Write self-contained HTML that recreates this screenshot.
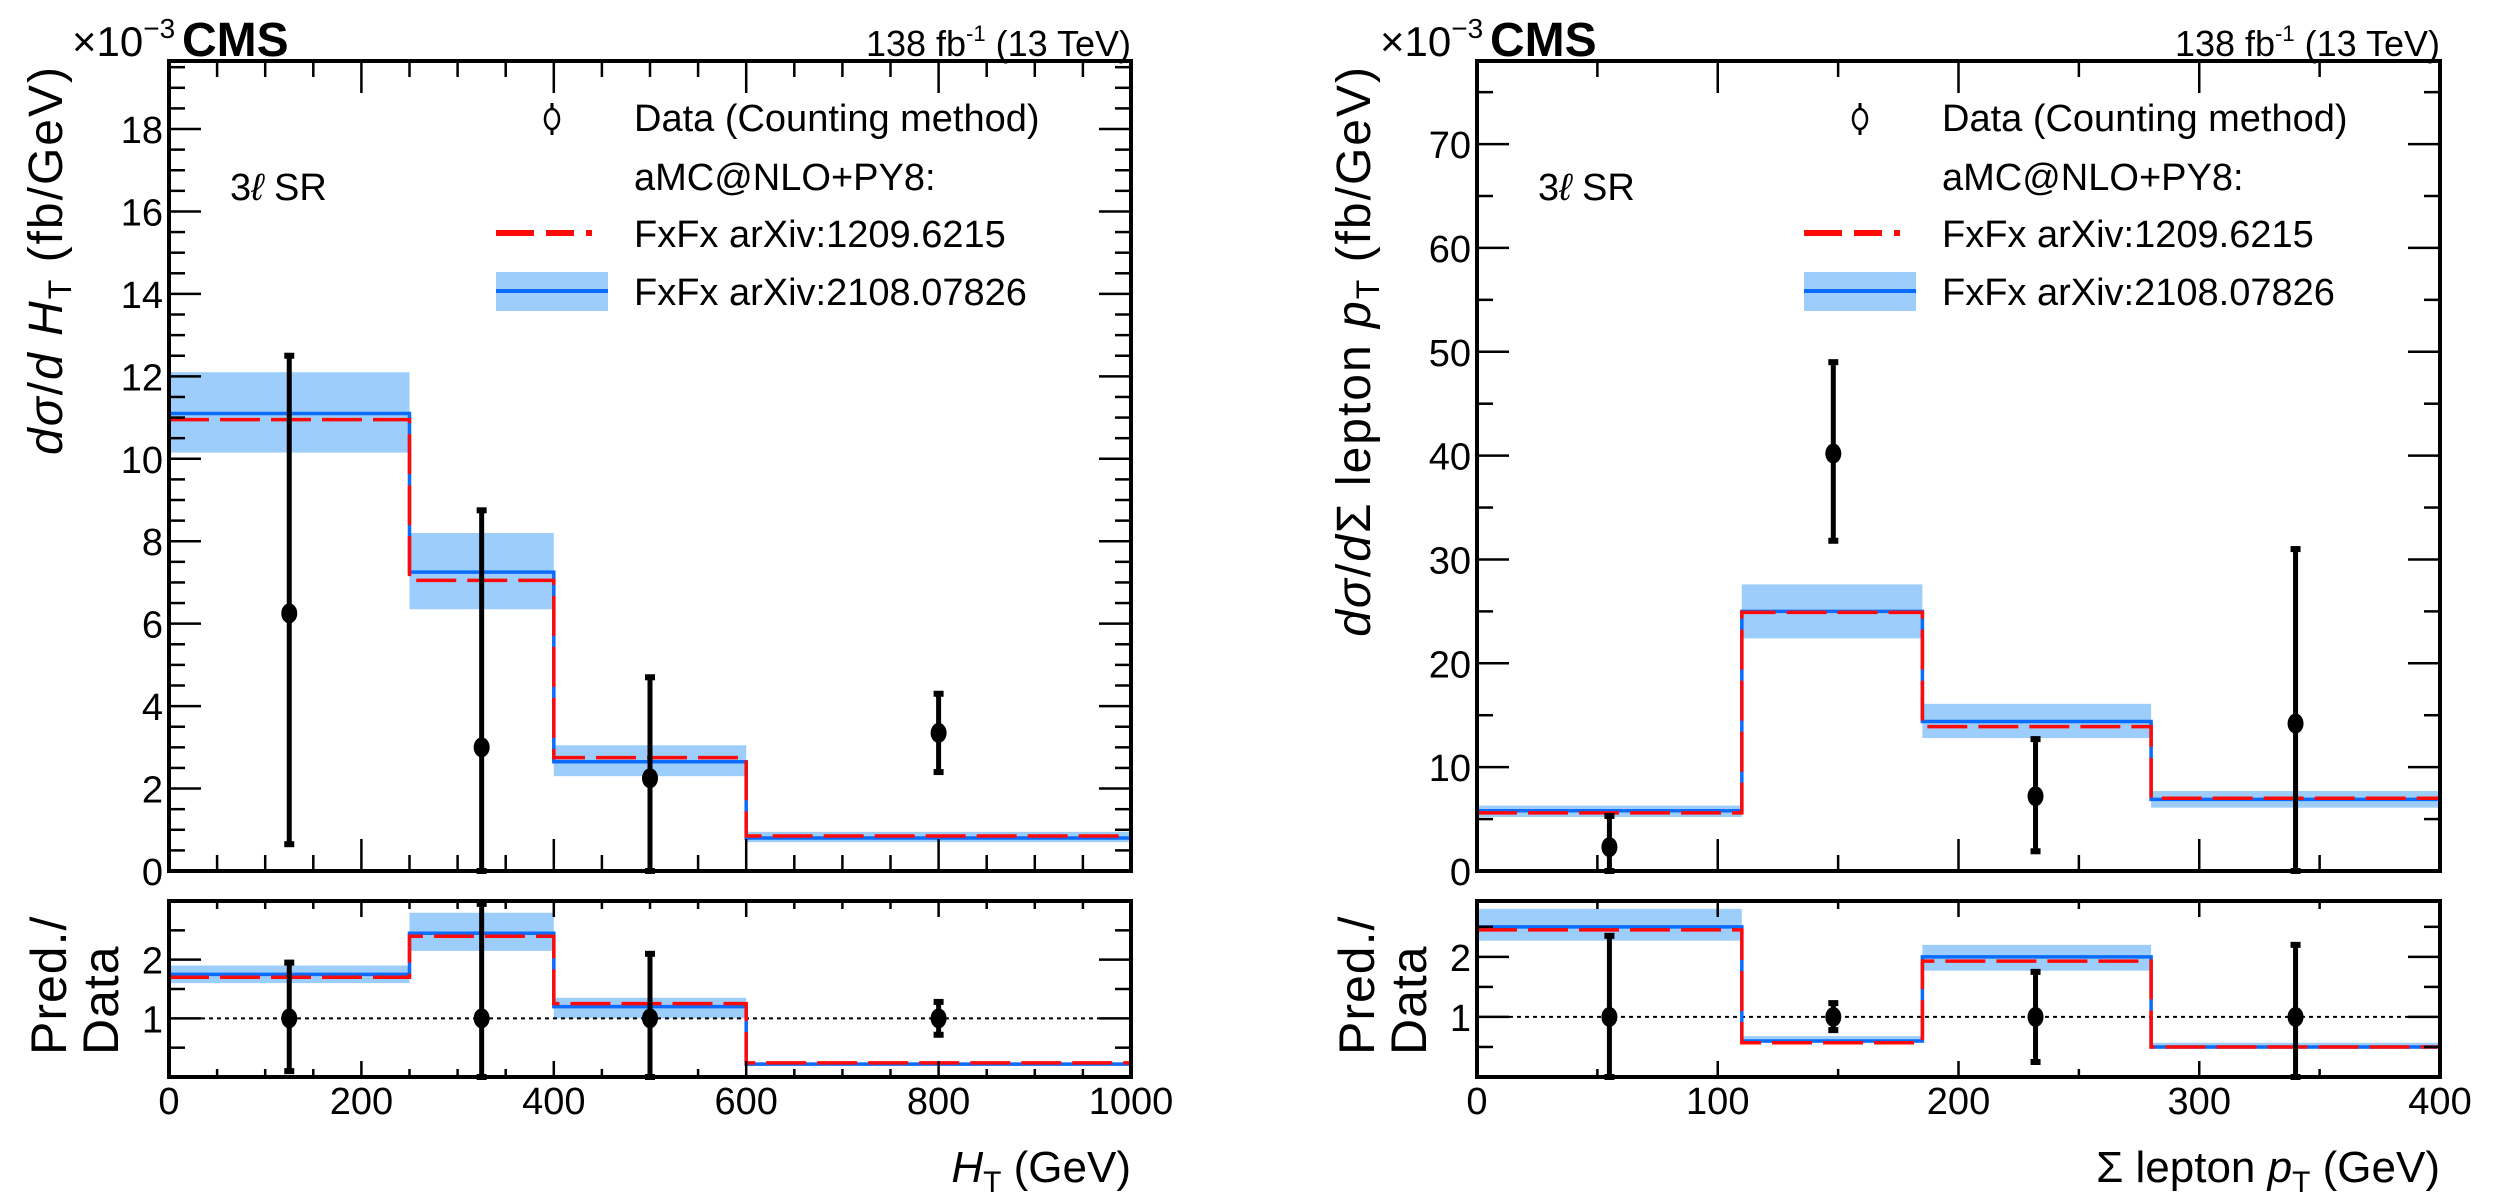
<!DOCTYPE html>
<html><head><meta charset="utf-8"><style>
html,body{margin:0;padding:0;background:#fff}
svg{display:block;font-family:"Liberation Sans",sans-serif}
</style></head><body>
<svg id="fig" width="2494" height="1197" viewBox="0 0 2494 1197" xmlns="http://www.w3.org/2000/svg"></svg>
<script>
// ---- Left panel (H_T) data ----
const htEdges = [0, 250, 400, 600, 1000];
const htBlue = [11.1, 7.25, 2.65, 0.8];
const htRed = [10.95, 7.05, 2.75, 0.85];
const htBandLo = [10.15, 6.35, 2.3, 0.7];
const htBandHi = [12.1, 8.2, 3.05, 0.95];
const htDataX = [125, 325, 500, 800];
const htDataY = [6.25, 3.0, 2.25, 3.35];
const htDataLo = [0.65, 0, 0, 2.4];
const htDataHi = [12.5, 8.75, 4.7, 4.3];
const htRBlue = [1.75, 2.45, 1.2, 0.22];
const htRRed = [1.7, 2.4, 1.25, 0.24];
const htRBandLo = [1.6, 2.15, 1.0, 0.2];
const htRBandHi = [1.9, 2.8, 1.35, 0.25];
const htRLo = [0.1, 0, 0, 0.72];
const htRHi = [1.95, 2.95, 2.1, 1.28];
const htXTicks = [0, 200, 400, 600, 800, 1000];
const htYTicks = [0, 2, 4, 6, 8, 10, 12, 14, 16, 18];
// ---- Right panel (sum lepton pT) data ----
const ptEdges = [0, 110, 185, 280, 400];
const ptBlue = [5.8, 25.0, 14.4, 6.9];
const ptRed = [5.6, 24.9, 13.9, 7.0];
const ptBandLo = [5.2, 22.4, 12.8, 6.1];
const ptBandHi = [6.3, 27.6, 16.1, 7.7];
const ptDataX = [55, 148, 232, 340];
const ptDataY = [2.3, 40.2, 7.2, 14.2];
const ptDataLo = [0, 31.8, 1.9, 0];
const ptDataHi = [5.3, 49.0, 12.7, 31.0];
const ptRBlue = [2.5, 0.6, 2.0, 0.5];
const ptRRed = [2.45, 0.57, 1.93, 0.5];
const ptRBandLo = [2.27, 0.57, 1.77, 0.47];
const ptRBandHi = [2.8, 0.68, 2.2, 0.57];
const ptRLo = [0, 0.78, 0.25, 0];
const ptRHi = [2.35, 1.23, 1.75, 2.2];
const ptXTicks = [0, 100, 200, 300, 400];
const ptYTicks = [0, 10, 20, 30, 40, 50, 60, 70];
const ratioTicks = [1, 2];

const NS = "http://www.w3.org/2000/svg";
const svg = document.getElementById('fig');
function mk(tag, attrs, parent) {
  const e = document.createElementNS(NS, tag);
  for (const k in attrs) e.setAttribute(k, attrs[k]);
  (parent || svg).appendChild(e);
  return e;
}
const BLUE = "#0a6cff", RED = "#ff0a0a", BAND = "#9dcdfb";

function drawPanel(o) {
  const g = mk('g', {});
  
  
  const L = o.x0, R = o.x1, T = 61, MB = 871, RT = 901, RB = 1077;
  const sx = v => L + (v - o.xmin) / (o.xmax - o.xmin) * (R - L);
  const sy = v => MB - v / o.ymax * (MB - T);
  const sr = v => RB - v / o.rmax * (RB - RT);

  function hist(edges, vals, ys, color, dash, name) {
    let d = '';
    for (let i = 0; i < vals.length; i++) {
      const x0 = sx(edges[i]), x1 = sx(edges[i + 1]), y = ys(vals[i]);
      d += (i === 0 ? 'M' : 'L') + x0 + ' ' + y + ' L' + x1 + ' ' + y + ' ';
    }
    const p = mk('path', {d: d, fill: 'none', stroke: color, 'stroke-width': 3.5}, g);
    if (dash) p.setAttribute('stroke-dasharray', '40 11');
    
    
  }
  function bands(edges, lo, hi, ys, name) {
    for (let i = 0; i < lo.length; i++) {
      const r = mk('rect', {x: sx(edges[i]), y: ys(hi[i]), width: sx(edges[i + 1]) - sx(edges[i]), height: ys(lo[i]) - ys(hi[i]), fill: BAND}, g);
      
      
    }
  }
  function points(xs, ysv, lo, hi, ys, name) {
    for (let i = 0; i < xs.length; i++) {
      const x = sx(xs[i]);
      const pg = mk('g', {}, g);
      
      
      mk('line', {x1: x, x2: x, y1: ys(lo[i]), y2: ys(hi[i]), stroke: '#000', 'stroke-width': 5}, pg);
      mk('rect', {x: x - 5, y: ys(lo[i]) - 3, width: 10, height: 6, fill: '#000'}, pg);
      mk('rect', {x: x - 5, y: ys(hi[i]) - 3, width: 10, height: 6, fill: '#000'}, pg);
      mk('ellipse', {cx: x, cy: ys(ysv[i]), rx: 8, ry: 10, fill: '#000'}, pg);
    }
  }
  bands(o.edges, o.bandLo, o.bandHi, sy, 'band-main');
  hist(o.edges, o.blue, sy, BLUE, false, 'blue-hist-main');
  hist(o.edges, o.red, sy, RED, true, 'red-hist-main');
  points(o.dx, o.dy, o.dlo, o.dhi, sy, 'data-point');
  bands(o.edges, o.rBandLo, o.rBandHi, sr, 'band-ratio');
  const ref = mk('line', {x1: L, x2: R, y1: sr(1), y2: sr(1), stroke: '#000', 'stroke-width': 2, 'stroke-dasharray': '4 4'}, g);
  
  
  hist(o.edges, o.rBlue, sr, BLUE, false, 'blue-hist-ratio');
  hist(o.edges, o.rRed, sr, RED, true, 'red-hist-ratio');
  points(o.dx, o.dx.map(() => 1), o.rlo, o.rhi, sr, 'ratio-point');

  mk('rect', {x: L, y: T, width: R - L, height: MB - T, fill: 'none', stroke: '#000', 'stroke-width': 4}, g);
  mk('rect', {x: L, y: RT, width: R - L, height: RB - RT, fill: 'none', stroke: '#000', 'stroke-width': 4}, g);
  for (let v = o.xmin; v <= o.xmax + 1e-6; v += o.xminor) {
    const x = sx(v), major = Math.abs(v / o.xmajor - Math.round(v / o.xmajor)) < 1e-6;
    const len = major ? 32 : 16;
    mk('line', {x1: x, x2: x, y1: MB, y2: MB - len, stroke: '#000', 'stroke-width': 2.5}, g);
    mk('line', {x1: x, x2: x, y1: T, y2: T + len, stroke: '#000', 'stroke-width': 2.5}, g);
    mk('line', {x1: x, x2: x, y1: RB, y2: RB - len * 0.5, stroke: '#000', 'stroke-width': 2.5}, g);
    mk('line', {x1: x, x2: x, y1: RT, y2: RT + len * 0.5, stroke: '#000', 'stroke-width': 2.5}, g);
  }
  o.xticks.forEach(v => {
    const t = mk('text', {x: sx(v), y: 1114, 'text-anchor': 'middle', 'font-size': 38}, g);
    t.textContent = v;
    
    
  });
  for (let v = 0; v <= o.ymax + 1e-6; v += o.yminor) {
    const y = sy(v), major = Math.abs(v / o.ymajor - Math.round(v / o.ymajor)) < 1e-6;
    const len = major ? 32 : 16;
    mk('line', {x1: L, x2: L + len, y1: y, y2: y, stroke: '#000', 'stroke-width': 2.5}, g);
    mk('line', {x1: R, x2: R - len, y1: y, y2: y, stroke: '#000', 'stroke-width': 2.5}, g);
  }
  o.yticks.forEach(v => {
    const t = mk('text', {x: L - 6, y: sy(v) + 14, 'text-anchor': 'end', 'font-size': 38}, g);
    t.textContent = v;
    
    
  });
  for (let v = 0; v <= o.rmax + 1e-6; v += 0.5) {
    const y = sr(v), major = Math.abs(v - Math.round(v)) < 1e-6;
    const len = major ? 32 : 16;
    mk('line', {x1: L, x2: L + len, y1: y, y2: y, stroke: '#000', 'stroke-width': 2.5}, g);
    mk('line', {x1: R, x2: R - len, y1: y, y2: y, stroke: '#000', 'stroke-width': 2.5}, g);
  }
  ratioTicks.forEach(v => {
    const t = mk('text', {x: L - 6, y: sr(v) + 14, 'text-anchor': 'end', 'font-size': 38}, g);
    t.textContent = v;
    
    
  });
}

drawPanel({name: 'ht-panel', x0: 169, x1: 1131, xmin: 0, xmax: 1000, xminor: 50, xmajor: 200, ymax: 19.65, yminor: 0.5, ymajor: 2, rmax: 3.0,
  edges: htEdges, blue: htBlue, red: htRed, bandLo: htBandLo, bandHi: htBandHi, dx: htDataX, dy: htDataY, dlo: htDataLo, dhi: htDataHi,
  rBlue: htRBlue, rRed: htRRed, rBandLo: htRBandLo, rBandHi: htRBandHi, rlo: htRLo, rhi: htRHi, xticks: htXTicks, yticks: htYTicks});
drawPanel({name: 'pt-panel', x0: 1477, x1: 2440, xmin: 0, xmax: 400, xminor: 50, xmajor: 100, ymax: 78, yminor: 5, ymajor: 10, rmax: 2.93,
  edges: ptEdges, blue: ptBlue, red: ptRed, bandLo: ptBandLo, bandHi: ptBandHi, dx: ptDataX, dy: ptDataY, dlo: ptDataLo, dhi: ptDataHi,
  rBlue: ptRBlue, rRed: ptRRed, rBandLo: ptRBandLo, rBandHi: ptRBandHi, rlo: ptRLo, rhi: ptRHi, xticks: ptXTicks, yticks: ptYTicks});
</script>
<svg width="2494" height="1197" style="position:absolute;left:0;top:0" xmlns="http://www.w3.org/2000/svg">
  <g font-family="Liberation Sans, sans-serif">
    <text x="72" y="56" font-size="42">×10<tspan dy="-18" font-size="28">−3</tspan></text>
    <text x="182" y="56" font-size="48" font-weight="bold">CMS</text>
    <text x="1131" y="56" font-size="36" text-anchor="end">138 fb<tspan dy="-15" font-size="22">-1</tspan><tspan dy="15"> (13 TeV)</tspan></text>
    <text transform="translate(62,65) rotate(-90)" font-size="48" letter-spacing="2" text-anchor="end"><tspan font-style="italic">dσ</tspan>/<tspan font-style="italic">d H</tspan><tspan font-size="32" dy="9">T</tspan><tspan dy="-9">  (fb/GeV)</tspan></text>
    <text transform="translate(66,1055) rotate(-90)" font-size="50" letter-spacing="1"><tspan x="0">Pred./</tspan><tspan x="0" dy="52">Data</tspan></text>
    <text x="1131" y="1182" font-size="44" text-anchor="end"><tspan font-style="italic">H</tspan><tspan font-size="30" dy="10">T</tspan><tspan dy="-10"> (GeV)</tspan></text>
    <text x="230" y="200" font-size="38">3<tspan font-style="italic">ℓ</tspan>  SR</text>
  </g>
  <g font-family="Liberation Sans, sans-serif" font-size="38">
    <line x1="552" y1="103" x2="552" y2="135" stroke="#000" stroke-width="3"/>
    <ellipse cx="552" cy="119" rx="7" ry="10" fill="#fff" stroke="#000" stroke-width="2.5"/>
    <text x="634" y="131">Data (Counting method)</text>
    <text x="634" y="190">aMC@NLO+PY8:</text>
    <line x1="496" y1="233" x2="608" y2="233" stroke="#ff0a0a" stroke-width="6" stroke-dasharray="38 12 28 12 6 20"/>
    <text x="634" y="247">FxFx arXiv:1209.6215</text>
    <rect x="496" y="272" width="112" height="39" fill="#9dcdfb"/>
    <line x1="496" y1="291" x2="608" y2="291" stroke="#0a6cff" stroke-width="4"/>
    <text x="634" y="305">FxFx arXiv:2108.07826</text>
  </g>
  <g font-family="Liberation Sans, sans-serif">
    <text x="1380" y="56" font-size="42">×10<tspan dy="-18" font-size="28">−3</tspan></text>
    <text x="1490" y="56" font-size="48" font-weight="bold">CMS</text>
    <text x="2440" y="56" font-size="36" text-anchor="end">138 fb<tspan dy="-15" font-size="22">-1</tspan><tspan dy="15"> (13 TeV)</tspan></text>
    <text transform="translate(1370,65) rotate(-90)" font-size="48" letter-spacing="2" text-anchor="end"><tspan font-style="italic">dσ</tspan>/<tspan font-style="italic">d</tspan>Σ lepton <tspan font-style="italic">p</tspan><tspan font-size="32" dy="9">T</tspan><tspan dy="-9">  (fb/GeV)</tspan></text>
    <text transform="translate(1374,1055) rotate(-90)" font-size="50" letter-spacing="1"><tspan x="0">Pred./</tspan><tspan x="0" dy="52">Data</tspan></text>
    <text x="2440" y="1182" font-size="44" text-anchor="end">Σ lepton <tspan font-style="italic">p</tspan><tspan font-size="30" dy="10">T</tspan><tspan dy="-10"> (GeV)</tspan></text>
    <text x="1538" y="200" font-size="38">3<tspan font-style="italic">ℓ</tspan>  SR</text>
  </g>
  <g font-family="Liberation Sans, sans-serif" font-size="38">
    <line x1="1860" y1="103" x2="1860" y2="135" stroke="#000" stroke-width="3"/>
    <ellipse cx="1860" cy="119" rx="7" ry="10" fill="#fff" stroke="#000" stroke-width="2.5"/>
    <text x="1942" y="131">Data (Counting method)</text>
    <text x="1942" y="190">aMC@NLO+PY8:</text>
    <line x1="1804" y1="233" x2="1916" y2="233" stroke="#ff0a0a" stroke-width="6" stroke-dasharray="38 12 28 12 6 20"/>
    <text x="1942" y="247">FxFx arXiv:1209.6215</text>
    <rect x="1804" y="272" width="112" height="39" fill="#9dcdfb"/>
    <line x1="1804" y1="291" x2="1916" y2="291" stroke="#0a6cff" stroke-width="4"/>
    <text x="1942" y="305">FxFx arXiv:2108.07826</text>
  </g>
</svg>
</body></html>
